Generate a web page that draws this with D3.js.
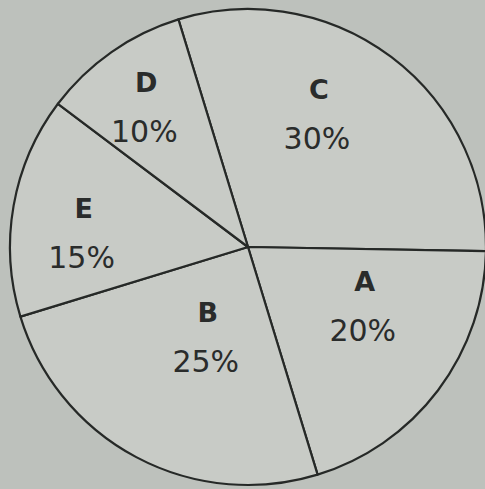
<!DOCTYPE html>
<html>
<head>
<meta charset="utf-8">
<script src="https://cdn.jsdelivr.net/npm/d3@7"></script>
<style>
  html, body { margin: 0; padding: 0; background: #bdc1bc; }
  svg { display: block; }
</style>
</head>
<body>
<script>
// slices in drawing order, clockwise from the top-left spoke
const names = ["C", "A", "B", "E", "D"];
const shares = [30, 20, 25, 15, 10];

// label placement (radius, angle nudge in degrees) per slice
const labelRadius = [151, 131, 99, 165, 173];
const labelNudge = [-9, -10, -4, -5, -1];

const w = 485;
const h = 489;
const cx = 248, cy = 247;
const r = 238;
const start = -17 * Math.PI / 180;

const svg = d3.select("body")
  .append("svg")
  .attr("width", w)
  .attr("height", h);

const pie = d3.pie()
  .sort(null)
  .value(d => d)
  .startAngle(start)
  .endAngle(start + 2 * Math.PI);

const arcs = pie(shares);
const arc = d3.arc().innerRadius(0).outerRadius(r);

const g = svg.append("g")
  .attr("transform", "translate(" + cx + "," + cy + ")");

g.selectAll("path")
  .data(arcs)
  .enter()
  .append("path")
  .attr("d", arc)
  .attr("fill", "#c8cbc6")
  .attr("stroke", "#262927")
  .attr("stroke-width", 2.2)
  .attr("stroke-linejoin", "round");

const labels = g.selectAll("g.label")
  .data(arcs)
  .enter()
  .append("g")
  .attr("class", "label")
  .attr("transform", (d, i) => {
    const a = (d.startAngle + d.endAngle) / 2 + labelNudge[i] * Math.PI / 180;
    const x = Math.sin(a) * labelRadius[i];
    const y = -Math.cos(a) * labelRadius[i];
    return "translate(" + x + "," + y + ")";
  });

labels.append("text")
  .attr("y", -15)
  .attr("text-anchor", "middle")
  .style("font-family", "'DejaVu Sans', sans-serif")
  .style("font-weight", "bold")
  .style("font-size", "27px")
  .style("fill", "#2a2c2b")
  .text((d, i) => names[i]);

labels.append("text")
  .attr("x", -2)
  .attr("y", 35)
  .attr("text-anchor", "middle")
  .style("font-family", "'DejaVu Sans', sans-serif")
  .style("font-size", "30px")
  .style("fill", "#2a2c2b")
  .text((d, i) => shares[i] + "%");
</script>
</body>
</html>
